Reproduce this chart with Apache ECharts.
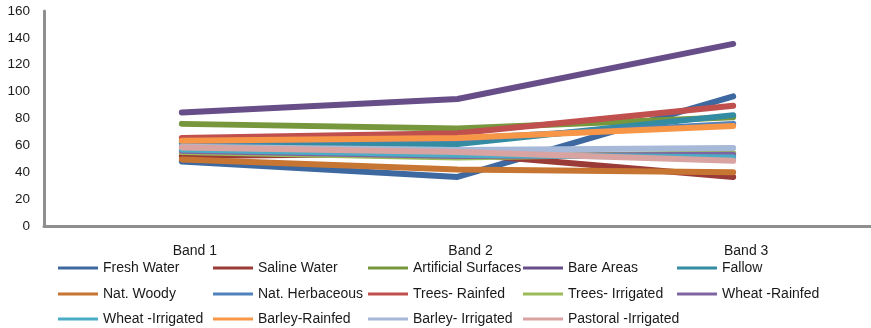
<!DOCTYPE html>
<html>
<head>
<meta charset="utf-8">
<script src="https://cdn.jsdelivr.net/npm/echarts@6/dist/echarts.min.js"></script>
<style>
  html, body { margin: 0; padding: 0; background: #fff; }
  #chart { width: 871px; height: 328px; }
</style>
</head>
<body>
<div id="chart"></div>
<script>
// Spectral band values per land-cover class
const bands = ['Band 1', 'Band 2', 'Band 3'];
const yTicks = [0, 20, 40, 60, 80, 100, 120, 140, 160];

const freshWater        = [48, 36.5, 96.5];
const salineWater       = [52, 54, 36.5];
const artificialSurface = [76, 72.5, 81];
const bareAreas         = [84.5, 94.5, 135.5];
const fallow            = [61.5, 61, 82.5];
const natWoody          = [49.5, 42, 40];
const natHerbaceous     = [63, 65, 76];
const treesRainfed      = [65.5, 69, 89.5];
const treesIrrigated    = [55, 51, 54.3];
const wheatRainfed      = [56, 52, 53];
const wheatIrrigated    = [57, 53, 51];
const barleyRainfed     = [63.5, 65.5, 74.5];
const barleyIrrigated   = [59, 56.5, 58];
const pastoralIrrigated = [58.5, 55, 48.5];

const seriesDefs = [
  ['Fresh Water', freshWater, '#3d69a0'],
  ['Saline Water', salineWater, '#9b3b38'],
  ['Artificial Surfaces', artificialSurface, '#77973d'],
  ['Bare Areas', bareAreas, '#674e88'],
  ['Fallow', fallow, '#338ca2'],
  ['Nat. Woody', natWoody, '#c77532'],
  ['Nat. Herbaceous', natHerbaceous, '#4f81bd'],
  ['Trees- Rainfed', treesRainfed, '#c0504d'],
  ['Trees- Irrigated', treesIrrigated, '#9bbb59'],
  ['Wheat -Rainfed', wheatRainfed, '#8064a2'],
  ['Wheat -Irrigated', wheatIrrigated, '#4bacc6'],
  ['Barley-Rainfed', barleyRainfed, '#f79646'],
  ['Barley- Irrigated', barleyIrrigated, '#a7b9d8'],
  ['Pastoral -Irrigated', pastoralIrrigated, '#d9a3a2']
];

const font = 'Liberation Sans, Arial, sans-serif';

// legend laid out as a grid: five columns, three rows
const colLeft = [58, 213, 368, 523, 677];
const rowTop = [261, 287, 312];
const legends = seriesDefs.map(function (d, i) {
  return {
    data: [d[0]],
    left: colLeft[i % 5],
    top: rowTop[Math.floor(i / 5)],
    padding: 0,
    itemWidth: 40,
    itemHeight: 3,
    icon: 'rect',
    selectedMode: false,
    itemStyle: { color: d[2] },
    textStyle: { fontFamily: font, fontSize: 14, color: '#1a1a1a' }
  };
});

const option = {
  animation: false,
  backgroundColor: '#fff',
  grid: { left: 44, right: -6, top: 11, bottom: 102, containLabel: false },
  legend: legends,
  xAxis: {
    type: 'category',
    data: bands,
    boundaryGap: true,
    axisLine: { lineStyle: { color: '#8f8f8f', width: 3 } },
    axisTick: { show: false },
    axisLabel: { fontFamily: font, fontSize: 14, color: '#1a1a1a', margin: 18, padding: [0, 0, 0, 26] }
  },
  yAxis: {
    type: 'value',
    min: 0,
    max: 160,
    interval: 20,
    axisLine: { show: true, lineStyle: { color: '#8f8f8f', width: 3 } },
    axisTick: { show: false },
    splitLine: { show: false },
    axisLabel: {
      fontFamily: font, fontSize: 13.5, color: '#1a1a1a', margin: 14,
      formatter: function (v) { return yTicks.indexOf(v) >= 0 ? String(v) : ''; }
    }
  },
  series: seriesDefs.map(function (d) {
    return {
      name: d[0],
      type: 'line',
      data: d[1],
      color: d[2],
      symbol: 'none',
      lineStyle: { width: 6, cap: 'round', join: 'round' }
    };
  })
};

echarts.init(document.getElementById('chart')).setOption(option);
</script>
</body>
</html>
